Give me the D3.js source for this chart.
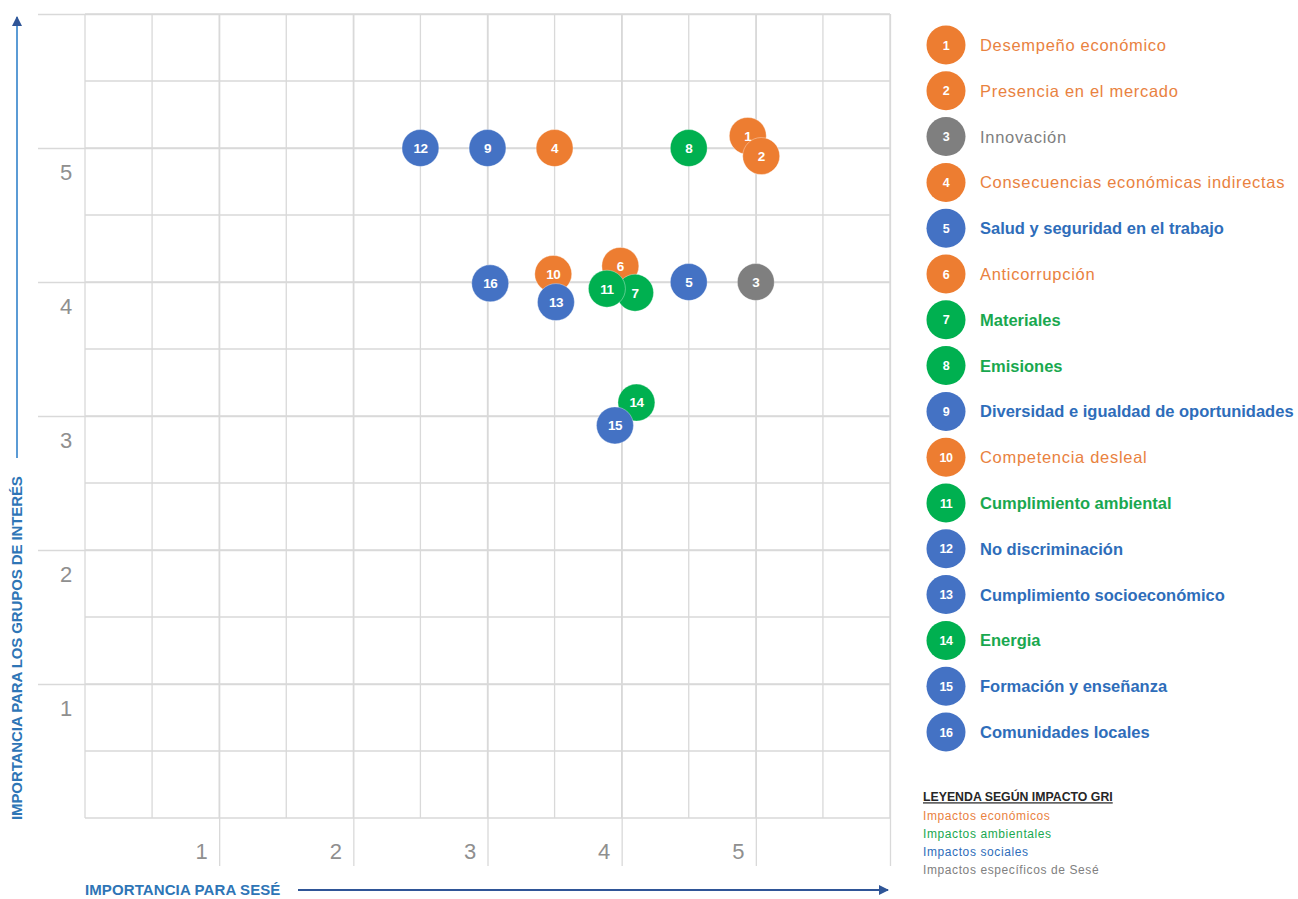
<!DOCTYPE html>
<html><head><meta charset="utf-8">
<script src="https://cdn.jsdelivr.net/npm/d3@7"></script>
<style>
html,body{margin:0;padding:0;background:#fff;}
svg{display:block;font-family:"Liberation Sans",Arial,sans-serif;}
</style></head>
<body><svg id="c" width="1298" height="899"></svg>
<script>
// ---- data ----
const ids = [1,2,3,4,5,6,7,8,9,10,11,12,13,14,15,16];
const names = ["Desempeño económico","Presencia en el mercado","Innovación","Consecuencias económicas indirectas",
  "Salud y seguridad en el trabajo","Anticorrupción","Materiales","Emisiones","Diversidad e igualdad de oportunidades",
  "Competencia desleal","Cumplimiento ambiental","No discriminación","Cumplimiento socioeconómico","Energia",
  "Formación y enseñanza","Comunidades locales"];
const impact = ["eco","eco","esp","eco","soc","eco","amb","amb","soc","eco","amb","soc","soc","amb","soc","soc"];
const importanciaSese   = [4.94,5.04,5.0,3.5,4.5,3.99,4.1,4.5,3.0,3.49,3.89,2.5,3.51,4.11,3.95,3.02];
const importanciaGrupos = [5.09,4.94,4.0,5.0,4.0,4.12,3.92,5.0,5.0,4.06,3.95,5.0,3.85,3.1,2.93,3.99];
const tickLabels = ["1","2","3","4","5"];
const impactKeys = ["eco","amb","soc","esp"];
const impactNames = ["Impactos económicos","Impactos ambientales","Impactos sociales","Impactos específicos de Sesé"];
const legendTitle = "LEYENDA SEGÚN IMPACTO GRI";
const xTitle = "IMPORTANCIA PARA SESÉ";
const yTitle = "IMPORTANCIA PARA LOS GRUPOS DE INTERÉS";

// ---- styles ----
const fillColor = d3.scaleOrdinal().domain(impactKeys).range(["#ED7D31","#00B050","#4472C4","#7F7F7F"]);
const textColor = d3.scaleOrdinal().domain(impactKeys).range(["#E9823F","#19A84F","#2E6DBA","#808080"]);

const svg = d3.select("#c");
const L=85, R=890, T=14, B=818;
const x = d3.scaleLinear().domain([0,6]).range([L,R]);
const y = d3.scaleLinear().domain([0,6]).range([B,T]);
const grid = "#D9D9D9";

// minor grid (halves + borders)
const minor = d3.range(0,6.01,0.5);
const g = svg.append("g");
g.selectAll(".vm").data(minor).join("line")
  .attr("x1",d=>x(d)).attr("x2",d=>x(d)).attr("y1",T).attr("y2",B)
  .attr("stroke",grid).attr("stroke-width",1.3);
g.selectAll(".hm").data(minor).join("line")
  .attr("y1",d=>y(d)).attr("y2",d=>y(d)).attr("x1",L).attr("x2",R)
  .attr("stroke",grid).attr("stroke-width",1.3);

// major lines extending outside, via axes
const xAxis = d3.axisBottom(x).tickValues([1,2,3,4,5,6]).tickSize(-(866-T)).tickFormat((d,i)=>tickLabels[i]||"");
const gx = svg.append("g").attr("transform",`translate(0,866)`).call(xAxis);
gx.select(".domain").remove();
gx.selectAll(".tick line").attr("stroke",grid).attr("stroke-width",1.3);
gx.selectAll(".tick text").attr("y",-15).attr("x",-18).attr("dy","0.35em")
  .attr("fill","#8f8f8f").attr("font-size",22).attr("font-family","Liberation Sans, Arial, sans-serif");

const yAxis = d3.axisLeft(y).tickValues([1,2,3,4,5,6]).tickSize(-(R-38)).tickFormat((d,i)=>tickLabels[i]||"");
const gy = svg.append("g").attr("transform",`translate(38,0)`).call(yAxis);
gy.select(".domain").remove();
gy.selectAll(".tick line").attr("stroke",grid).attr("stroke-width",1.3);
gy.selectAll(".tick text").attr("x",28).attr("y",24).attr("dy","0.35em").attr("text-anchor","middle")
  .attr("fill","#8f8f8f").attr("font-size",22).attr("font-family","Liberation Sans, Arial, sans-serif");

// ---- axis arrows & titles ----
const defs = svg.append("defs");
defs.append("marker").attr("id","arrX").attr("viewBox","0 0 10 10").attr("refX",9).attr("refY",5)
  .attr("markerWidth",5).attr("markerHeight",5).attr("orient","auto")
  .append("path").attr("d","M0,0L10,5L0,10z").attr("fill","#2F5597");
defs.append("marker").attr("id","arrY").attr("viewBox","0 0 10 10").attr("refX",9).attr("refY",5)
  .attr("markerWidth",5).attr("markerHeight",5).attr("orient","auto")
  .append("path").attr("d","M0,0L10,5L0,10z").attr("fill","#2F5597");

svg.append("line").attr("x1",298).attr("x2",888).attr("y1",890).attr("y2",890)
  .attr("stroke","#2F5597").attr("stroke-width",2).attr("marker-end","url(#arrX)");
svg.append("text").attr("x",L).attr("y",890).attr("dy","0.35em").text(xTitle)
  .attr("fill","#2E75B6").attr("font-weight","bold").attr("font-size",15).attr("letter-spacing",0.1);

svg.append("line").attr("x1",17).attr("x2",17).attr("y1",458).attr("y2",17)
  .attr("stroke","#5B9BD5").attr("stroke-width",2).attr("marker-end","url(#arrY)");
svg.append("text").attr("transform","translate(17,820) rotate(-90)").attr("dy","0.35em").text(yTitle)
  .attr("fill","#2E75B6").attr("font-weight","bold").attr("font-size",15).attr("letter-spacing",-0.1);

// ---- bubbles ----
const pts = ids.map((id,i)=>({id, name:names[i], k:impact[i], xv:importanciaSese[i], yv:importanciaGrupos[i]}));
const bub = svg.append("g").selectAll("g").data(pts).join("g")
  .attr("transform",d=>`translate(${x(d.xv)},${y(d.yv)})`);
bub.append("circle").attr("r",18.5).attr("fill",d=>fillColor(d.k))
  .attr("stroke","#fff").attr("stroke-opacity",0.35).attr("stroke-width",1);
bub.append("text").text(d=>d.id).attr("text-anchor","middle").attr("dy","0.36em")
  .attr("fill","#fff").attr("font-weight","bold").attr("font-size",13.5).attr("letter-spacing",-0.5);

// ---- legend ----
const ly = d3.scalePoint().domain(ids).range([45,732]);
const lg = svg.append("g").selectAll("g").data(pts).join("g")
  .attr("transform",d=>`translate(946,${ly(d.id)})`);
lg.append("circle").attr("r",19.5).attr("fill",d=>fillColor(d.k));
lg.append("text").text(d=>d.id).attr("text-anchor","middle").attr("dy","0.36em")
  .attr("fill","#fff").attr("font-weight","bold").attr("font-size",12.5).attr("letter-spacing",-0.5);
lg.append("text").text(d=>d.name).attr("x",34).attr("dy","0.36em")
  .attr("fill",d=>textColor(d.k)).attr("font-size",16.5)
  .attr("font-weight",d=>(d.k==="soc"||d.k==="amb")?"bold":"normal")
  .attr("letter-spacing",d=>(d.k==="soc"||d.k==="amb")?0:0.7);

// ---- impact key ----
svg.append("text").attr("x",923).attr("y",797).attr("dy","0.35em").text(legendTitle)
  .attr("fill","#262626").attr("font-weight","bold").attr("font-size",12.3)
  .attr("text-decoration","underline");
const ky = d3.scalePoint().domain(impactKeys).range([816,870]);
svg.append("g").selectAll("text").data(impactKeys).join("text")
  .attr("x",923).attr("y",d=>ky(d)).attr("dy","0.35em").text((d,i)=>impactNames[i])
  .attr("fill",d=>textColor(d)).attr("font-size",12).attr("letter-spacing",0.6);
</script></body></html>
